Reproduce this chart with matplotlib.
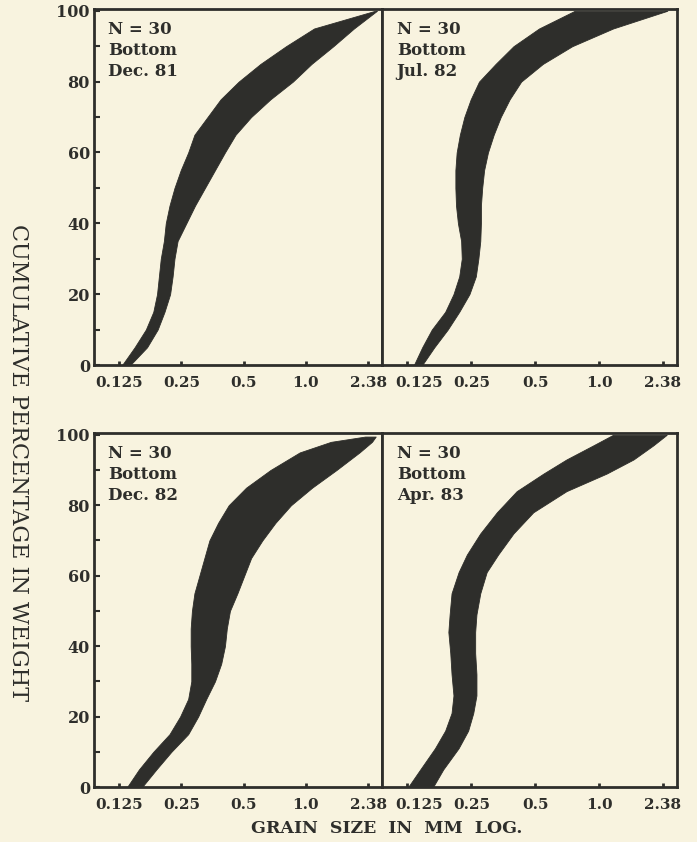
import numpy as np
import matplotlib.pyplot as plt
from matplotlib.transforms import ScaledTranslation

plt.rcParams['font.family'] = ['DejaVu Serif']

paper = '#f8f3df'
ink = '#2e2e2b'

# grain size scale: equally spaced ticks labelled in mm
x_labels = ['0.125', '0.25', '0.5', '1.0', '2.38']
x_ticks = [0, 1, 2, 3, 4]

# envelopes of the 30 cumulative curves (fine edge / coarse edge, tick units)
dec81_y = [0, 5, 10, 15, 20, 25, 30, 35, 40, 45, 50, 55, 60, 65, 70, 75, 80, 85, 90, 95, 100]
dec81_fine = [0.05, 0.25, 0.43, 0.55, 0.61, 0.64, 0.67, 0.72, 0.75, 0.81, 0.89, 0.99, 1.11,
              1.21, 1.42, 1.63, 1.92, 2.27, 2.68, 3.13, 4.11]
dec81_coarse = [0.18, 0.45, 0.62, 0.73, 0.82, 0.86, 0.89, 0.94, 1.08, 1.22, 1.38, 1.54, 1.70,
                1.87, 2.12, 2.43, 2.79, 3.09, 3.44, 3.77, 4.14]

jul82_y = [0, 5, 10, 15, 20, 25, 30, 35, 40, 45, 50, 55, 60, 65, 70, 75, 80, 85, 90, 95, 100]
jul82_fine = [0.10, 0.23, 0.38, 0.59, 0.72, 0.81, 0.85, 0.84, 0.79, 0.76, 0.75, 0.75, 0.77,
              0.82, 0.89, 0.99, 1.12, 1.38, 1.66, 2.06, 2.62]
jul82_coarse = [0.23, 0.42, 0.63, 0.81, 0.97, 1.07, 1.11, 1.14, 1.15, 1.15, 1.17, 1.20, 1.26,
                1.35, 1.46, 1.60, 1.78, 2.12, 2.58, 3.22, 4.07]

dec82_y = [0, 5, 10, 15, 20, 25, 30, 35, 40, 45, 50, 55, 60, 65, 70, 75, 80, 85, 90, 95, 98, 99.5]
dec82_fine = [0.13, 0.32, 0.55, 0.81, 0.98, 1.11, 1.16, 1.16, 1.15, 1.15, 1.17, 1.21, 1.29,
              1.37, 1.45, 1.59, 1.76, 2.04, 2.43, 2.90, 3.40, 3.95]
dec82_coarse = [0.37, 0.60, 0.84, 1.11, 1.27, 1.40, 1.54, 1.64, 1.70, 1.73, 1.78, 1.90, 2.01,
                2.12, 2.30, 2.51, 2.76, 3.10, 3.49, 3.86, 4.06, 4.12]

apr83_y = [0, 5, 11, 16, 21, 26, 32, 38, 44, 49, 55, 61, 66, 72, 78, 84, 89, 93, 97, 100]
apr83_fine = [0.01, 0.20, 0.43, 0.59, 0.69, 0.72, 0.69, 0.67, 0.64, 0.66, 0.69, 0.80, 0.93,
              1.14, 1.40, 1.71, 2.13, 2.49, 2.91, 3.22]
apr83_coarse = [0.40, 0.56, 0.80, 0.95, 1.03, 1.08, 1.08, 1.06, 1.06, 1.08, 1.14, 1.24, 1.42,
                1.66, 1.97, 2.49, 3.12, 3.54, 3.85, 4.06]

panels = [
    ('Dec. 81', dec81_y, dec81_fine, dec81_coarse, [0.135, 0.5665, 0.413, 0.4228], True),
    ('Jul. 82', jul82_y, jul82_fine, jul82_coarse, [0.548, 0.5665, 0.4232, 0.4228], False),
    ('Dec. 82', dec82_y, dec82_fine, dec82_coarse, [0.135, 0.0653, 0.413, 0.4204], True),
    ('Apr. 83', apr83_y, apr83_fine, apr83_coarse, [0.548, 0.0653, 0.4232, 0.4204], False),
]

fig = plt.figure(figsize=(6.97, 8.42), dpi=100)
fig.patch.set_facecolor(paper)

for date, y, fine, coarse, pos, left in panels:
    ax = fig.add_axes(pos)
    ax.set_facecolor(paper)
    ax.fill_betweenx(y, fine, coarse, color=ink, lw=0.6)
    ax.set_xlim(-0.4, 4.22)
    ax.set_ylim(0, 100.5)
    ax.set_xticks(x_ticks, x_labels)
    ax.tick_params(axis='x', direction='in', length=3, width=2, pad=8,
                   labelsize=11, colors=ink)
    if left:
        ax.set_yticks(range(0, 101, 20))
        ax.set_yticks(range(10, 100, 20), minor=True)
        ax.tick_params(axis='y', which='both', direction='in', length=4, width=1.5,
                       pad=3, labelsize=11.5, colors=ink)
    else:
        ax.set_yticks([])
        # first label sits a little right of its tick in the original
        first = ax.get_xticklabels()[0]
        first.set_transform(first.get_transform() +
                            ScaledTranslation(0.12, 0, fig.dpi_scale_trans))
    for lab in ax.get_xticklabels() + ax.get_yticklabels():
        lab.set_fontweight('bold')
    for sp in ax.spines.values():
        sp.set_linewidth(2)
        sp.set_color(ink)
    ax.text(0.05, 0.965, 'N = 30\nBottom\n' + date, transform=ax.transAxes,
            ha='left', va='top', fontsize=12, fontweight='bold', color=ink,
            linespacing=1.3)

fig.text(0.026, 0.451, 'CUMULATIVE PERCENTAGE IN WEIGHT', rotation=270,
         ha='center', va='center', fontsize=16, color=ink)
fig.text(0.555, 0.0166, 'GRAIN  SIZE  IN  MM  LOG.', ha='center', va='center',
         fontsize=12.5, fontweight='bold', color=ink)

fig.savefig('out.png', dpi=100, facecolor=paper)
